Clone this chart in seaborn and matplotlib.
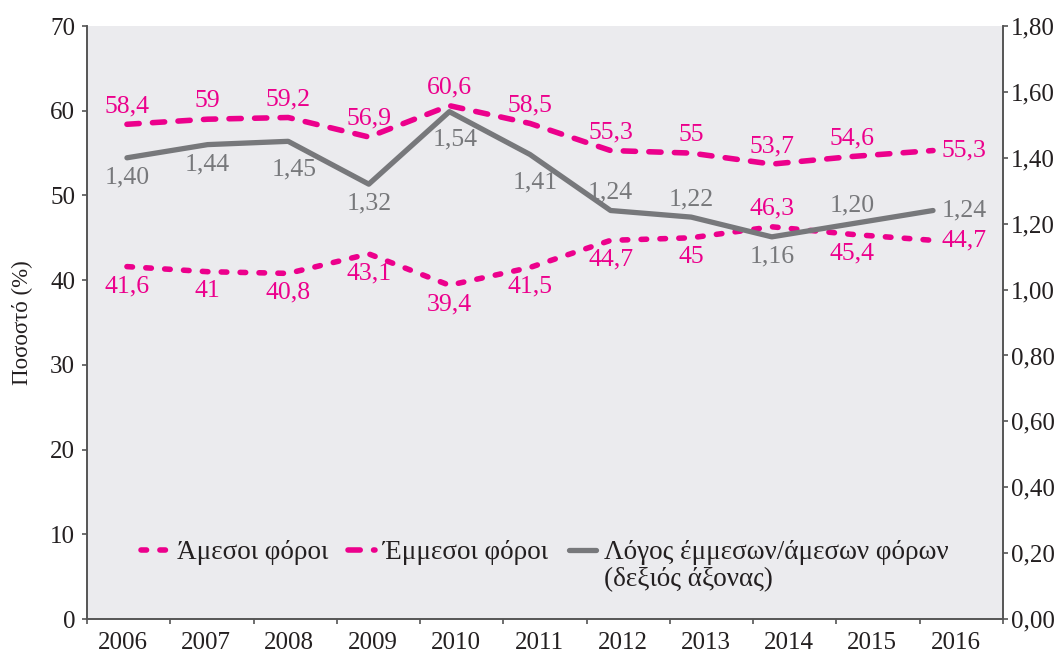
import pandas as pd
import matplotlib
matplotlib.use("Agg")
import matplotlib.pyplot as plt
from matplotlib.lines import Line2D
from matplotlib.ticker import FixedLocator, FuncFormatter
import seaborn as sns

# Data
years = [2006, 2007, 2008, 2009, 2010, 2011, 2012, 2013, 2014, 2015, 2016]
direct = [41.6, 41, 40.8, 43.1, 39.4, 41.5, 44.7, 45, 46.3, 45.4, 44.7]
indirect = [58.4, 59, 59.2, 56.9, 60.6, 58.5, 55.3, 55, 53.7, 54.6, 55.3]
ratio = [1.40, 1.44, 1.45, 1.32, 1.54, 1.41, 1.24, 1.22, 1.16, 1.20, 1.24]

name_direct = "Άμεσοι φόροι"
name_indirect = "Έμμεσοι φόροι"
name_ratio = "Λόγος έμμεσων/άμεσων φόρων"

# label side for each point: a = above, b = below, B = further below, r = right
pos_direct = ["b"] * 8 + ["a", "b", "r"]
pos_indirect = ["a"] * 10 + ["r"]
pos_ratio = ["b", "b", "B", "b", "B", "B", "a", "a", "b", "a", "r"]

PINK = "#EC008C"
GREY = "#77787B"
BG = "#EBEBEE"
DARK = "#231F20"
FS = 19.5
TFS = 18

sns.set_style("ticks")
plt.rcParams["font.family"] = ["Liberation Serif", "DejaVu Serif"]
plt.rcParams["lines.dash_capstyle"] = "round"
plt.rcParams["lines.solid_capstyle"] = "round"

df = pd.DataFrame({
    "year": years * 2,
    "value": direct + indirect,
    "series": [name_direct] * len(years) + [name_indirect] * len(years),
})
df_ratio = pd.DataFrame({"year": years, "ratio": ratio})

fig = plt.figure(figsize=(10.58, 6.57), dpi=100)
ax = fig.add_axes([0.0822, 0.0578, 0.8658, 0.9026])
ax.set_facecolor(BG)

dash_map = {name_direct: (1.0, 2.4), name_indirect: (2.2, 2.4)}
sns.lineplot(data=df, x="year", y="value", hue="series", style="series",
             palette={name_direct: PINK, name_indirect: PINK},
             dashes=dash_map, linewidth=4, ax=ax, legend=False)

ax2 = ax.twinx()
sns.lineplot(data=df_ratio, x="year", y="ratio", color=GREY, linewidth=3.8,
             ax=ax2, legend=False)

# points sit a little tighter than the category bands in the original
xmin, xmax = years[0] - 0.496, years[0] + 10.868
ax.set_xlim(xmin, xmax)
ax.set_ylim(0, 70)
ax2.set_ylim(0, 1.8)
ax.set_yticks(range(0, 71, 10))
ax2.set_yticks([i * 0.2 for i in range(10)])
ax2.yaxis.set_major_formatter(FuncFormatter(lambda v, p: f"{v:.2f}".replace(".", ",")))

n = len(years)
band = (xmax - xmin) / n
ax.xaxis.set_major_locator(FixedLocator([xmin + k * band for k in range(n + 1)]))
ax.xaxis.set_major_formatter(FuncFormatter(lambda v, p: ""))
ax.set_xticks([xmin + (k + 0.43) * band for k in range(n)], [str(y) for y in years], minor=True)
ax.tick_params(axis="x", which="minor", length=0, pad=9, labelsize=TFS, labelcolor=DARK)
ax.tick_params(axis="x", which="major", length=3.5, width=1.2, color="#555555")
ax.tick_params(axis="y", length=3.5, width=1.2, color="#555555", labelsize=TFS, labelcolor=DARK, pad=5)
ax2.tick_params(axis="y", length=3.5, width=1.2, color="#555555", labelsize=TFS, labelcolor=DARK, pad=2.5)

ax.set_xlabel("")
ax.set_ylabel("Ποσοστό (%)", fontsize=16.5, color=DARK, labelpad=12)
ax2.set_xlabel("")
ax2.set_ylabel("")

for a in (ax, ax2):
    a.spines["top"].set_visible(False)
    for s in ("left", "right", "bottom"):
        a.spines[s].set_color("#555555")
        a.spines[s].set_linewidth(1.2)


def fmt1(v):
    if v == int(v):
        return str(int(v))
    return f"{v:.1f}".replace(".", ",")


def put_labels(axis, xs, vals, sides, texts, color):
    for x, v, s, t in zip(xs, vals, sides, texts):
        if s == "a":
            off, ha = (0, 13), "center"
        elif s == "b":
            off, ha = (0, -14), "center"
        elif s == "B":
            off, ha = (4, -20), "center"
        else:
            off, ha = (6, 0), "left"
        axis.annotate(t, (x, v), xytext=off, textcoords="offset points",
                      ha=ha, va="center", fontsize=FS - 1, color=color)


put_labels(ax, years, direct, pos_direct, [fmt1(v) for v in direct], PINK)
put_labels(ax, years, indirect, pos_indirect, [fmt1(v) for v in indirect], PINK)
put_labels(ax2, years, ratio, pos_ratio, [f"{v:.2f}".replace(".", ",") for v in ratio], GREY)

handles = [
    Line2D([], [], color=PINK, linewidth=4, dashes=dash_map[name_direct]),
    Line2D([], [], color=PINK, linewidth=4, dashes=dash_map[name_indirect]),
    Line2D([], [], color=GREY, linewidth=3.8),
]
leg = ax2.legend(handles, [name_direct, name_indirect, name_ratio], ncol=3,
                 loc="center", bbox_to_anchor=(0.5, 0.112), frameon=False,
                 fontsize=FS, handlelength=1.0, handletextpad=0.3,
                 columnspacing=0.75, labelcolor=DARK)
fig.canvas.draw()
# second line of the third legend entry, aligned with its text
t3 = leg.get_texts()[2].get_window_extent()
x3 = ax2.transAxes.inverted().transform((t3.x0, t3.y0))[0]
ax2.text(x3, 0.066, "(δεξιός άξονας)", transform=ax2.transAxes,
         fontsize=FS, color=DARK, ha="left", va="center")

fig.savefig("out.png", dpi=100)
